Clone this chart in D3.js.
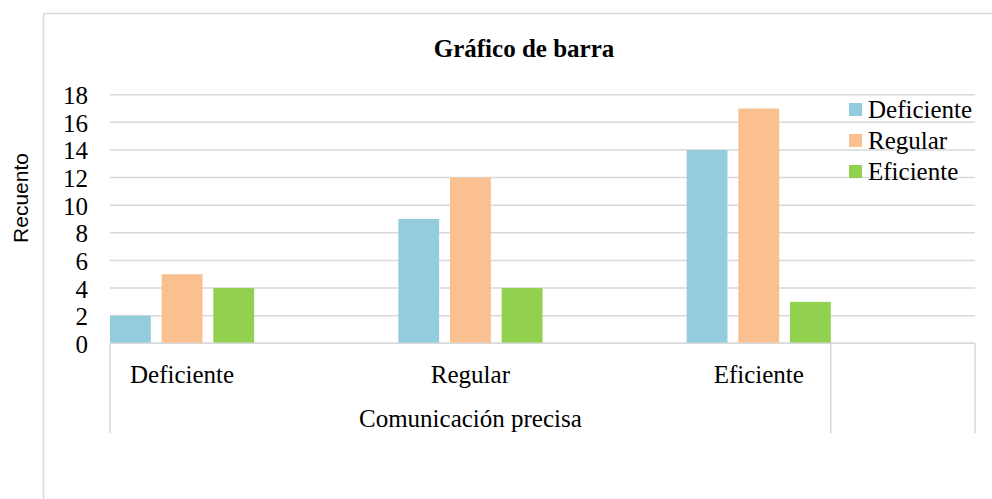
<!DOCTYPE html>
<html>
<head>
<meta charset="utf-8">
<script src="https://cdn.jsdelivr.net/npm/d3@7"></script>
<style>
  html, body { margin: 0; padding: 0; background: #fff; }
  svg { display: block; }
</style>
</head>
<body>
<svg id="chart"></svg>
<script>
// Data
const groups = ["Deficiente", "Regular", "Eficiente"];
const series = ["Deficiente", "Regular", "Eficiente"];
const deficienteValues = [2, 9, 14];
const regularValues = [5, 12, 17];
const eficienteValues = [4, 4, 3];
const yTicks = [0, 2, 4, 6, 8, 10, 12, 14, 16, 18];
const colors = ["#93CDDD", "#FAC090", "#92D050"];

const chartTitle = "Gráfico de barra";
const yLabel = "Recuento";
const outerLabel = "Comunicación precisa";

const width = 992, height = 499;
const plot = { left: 110, right: 975, top: 94.7, bottom: 343.3 };
const serif = "'Liberation Serif', 'Times New Roman', serif";
const grid = "#d9d9d9";

const svg = d3.select("#chart")
    .attr("width", width)
    .attr("height", height);

// Chart border (left and top visible)
svg.append("rect")
    .attr("x", 43.5).attr("y", 13.5)
    .attr("width", 1000).attr("height", 600)
    .attr("fill", "none")
    .attr("stroke", grid)
    .attr("stroke-width", 1.5);

// Scales
const y = d3.scaleLinear().domain([0, 18]).range([plot.bottom, plot.top]);
const x0 = d3.scaleBand().domain(groups).range([plot.left, plot.right]).padding(0);
const clusterWidth = x0.bandwidth() / 2;
const x1 = d3.scaleBand().domain(series).range([0, clusterWidth]).paddingInner(0.21).paddingOuter(0);

// Gridlines
svg.append("g")
    .selectAll("line")
    .data(yTicks)
    .enter()
    .append("line")
    .attr("x1", plot.left)
    .attr("x2", plot.right)
    .attr("y1", d => y(d))
    .attr("y2", d => y(d))
    .attr("stroke", grid)
    .attr("stroke-width", 1.5);

// Y axis tick labels
const yAxis = svg.append("g")
    .attr("transform", `translate(${plot.left}, 0)`)
    .call(d3.axisLeft(y).tickValues(yTicks).tickSize(0).tickPadding(22));
yAxis.select(".domain").remove();
yAxis.selectAll("text")
    .attr("font-family", serif)
    .attr("font-size", "25px")
    .attr("fill", "#000")
    .attr("dy", "0.36em");

// Bars
const table = groups.map((g, i) => ({
    group: g,
    values: [deficienteValues[i], regularValues[i], eficienteValues[i]]
}));

svg.append("g")
    .selectAll("g")
    .data(table)
    .enter()
    .append("g")
    .attr("transform", d => `translate(${x0(d.group)}, 0)`)
    .selectAll("rect")
    .data(d => d.values.map((v, j) => ({ key: series[j], value: v, idx: j })))
    .enter()
    .append("rect")
    .attr("x", d => x1(d.key))
    .attr("y", d => y(d.value))
    .attr("width", x1.bandwidth())
    .attr("height", d => y(0) - y(d.value))
    .attr("fill", d => colors[d.idx]);

// X axis line and separators
const axisG = svg.append("g").attr("stroke", grid).attr("stroke-width", 1.5);
axisG.append("line")
    .attr("x1", plot.left).attr("x2", plot.right)
    .attr("y1", y(0)).attr("y2", y(0));
const lastEnd = x0(groups[groups.length - 1]) + clusterWidth;
[plot.left, lastEnd, plot.right].forEach(xv => {
    axisG.append("line")
        .attr("x1", xv).attr("x2", xv)
        .attr("y1", y(0)).attr("y2", 433);
});

// Category labels
svg.append("g")
    .selectAll("text")
    .data(groups)
    .enter()
    .append("text")
    .attr("x", d => x0(d) + clusterWidth / 2)
    .attr("y", 382.5)
    .attr("text-anchor", "middle")
    .attr("font-family", serif)
    .attr("font-size", "25px")
    .attr("fill", "#000")
    .text(d => d);

// Outer group label
svg.append("text")
    .attr("x", (plot.left + lastEnd) / 2)
    .attr("y", 426.5)
    .attr("text-anchor", "middle")
    .attr("font-family", serif)
    .attr("font-size", "25px")
    .attr("fill", "#000")
    .text(outerLabel);

// Title
svg.append("text")
    .attr("x", 524)
    .attr("y", 57)
    .attr("text-anchor", "middle")
    .attr("font-family", serif)
    .attr("font-weight", "bold")
    .attr("font-size", "25px")
    .attr("fill", "#000")
    .text(chartTitle);

// Y label
svg.append("text")
    .attr("transform", "translate(28, 198) rotate(-90)")
    .attr("text-anchor", "middle")
    .attr("font-family", "'Liberation Sans', Arial, sans-serif")
    .attr("font-size", "21px")
    .attr("fill", "#000")
    .text(yLabel);

// Legend
const legend = svg.append("g")
    .selectAll("g")
    .data(series)
    .enter()
    .append("g")
    .attr("transform", (d, i) => `translate(849, ${103 + i * 31})`);
legend.append("rect")
    .attr("width", 13)
    .attr("height", 13)
    .attr("fill", (d, i) => colors[i]);
legend.append("text")
    .attr("x", 19)
    .attr("y", 15)
    .attr("font-family", serif)
    .attr("font-size", "25px")
    .attr("fill", "#000")
    .text(d => d);
</script>
</body>
</html>
